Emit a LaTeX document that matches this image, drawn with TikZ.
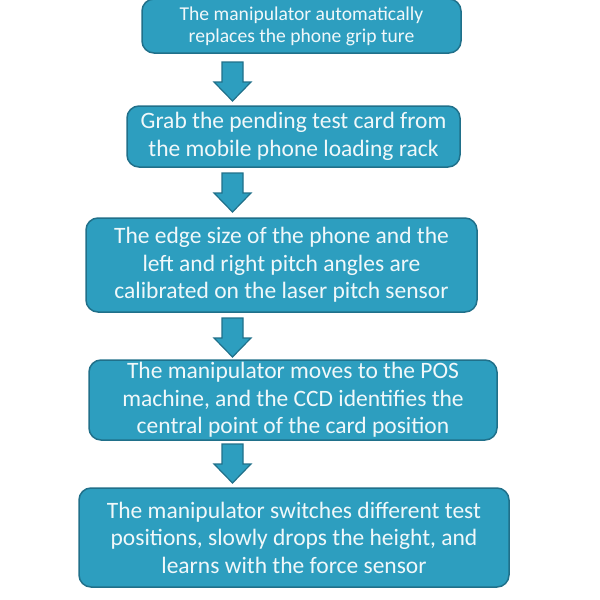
\documentclass[tikz,border=0pt]{standalone}
\usepackage{fontspec}
\setmainfont{Carlito}
\definecolor{boxfill}{RGB}{45,158,191}
\definecolor{boxline}{RGB}{32,112,138}
\definecolor{boxtext}{RGB}{240,248,250}
\tikzset{
  flowbox/.style={draw=boxline, fill=boxfill, line width=1.5pt, rounded corners=12pt,
    text=boxtext, align=center, inner sep=0pt, font=\fontsize{23.5}{27.5}\selectfont},
  smallbox/.style={flowbox, font=\fontsize{19.6}{22}\selectfont},
  blockarrow/.pic={
    \draw[draw=boxline, fill=boxfill, line width=1.2pt, line join=miter]
      (-10.5,0) -- (10.5,0) -- (10.5,20) -- (18.5,20) -- (0,39) -- (-18.5,20) -- (-10.5,20) -- cycle;
  }
}
\begin{document}
\begin{tikzpicture}[x=1pt,y=-1pt]
\useasboundingbox (0,0) rectangle (600,600);
\node[smallbox, minimum width=319pt, minimum height=54pt] (b1) at (301.5,26) {The manipulator automatically\\replaces the phone grip ture};
\node[flowbox, minimum width=333pt, minimum height=61pt] (b2) at (293.5,136.5) {Grab the pending test card from\\the mobile phone loading rack};
\node[flowbox, minimum width=391pt, minimum height=94pt] (b3) at (281.5,265) {The edge size of the phone and the\\left and right pitch angles are\\calibrated on the laser pitch sensor};
\node[flowbox, minimum width=408pt, minimum height=80pt] (b4) at (293,400) {The manipulator moves to the POS\\machine, and the CCD identifies the\\central point of the card position};
\node[flowbox, minimum width=430pt, minimum height=99pt] (b5) at (294,537.5) {The manipulator switches different test\\positions, slowly drops the height, and\\learns with the force sensor};
\pic at (232.5,62) {blockarrow};
\pic at (232.5,173) {blockarrow};
\pic at (232.5,318) {blockarrow};
\pic at (232.5,444) {blockarrow};
\end{tikzpicture}
\end{document}
